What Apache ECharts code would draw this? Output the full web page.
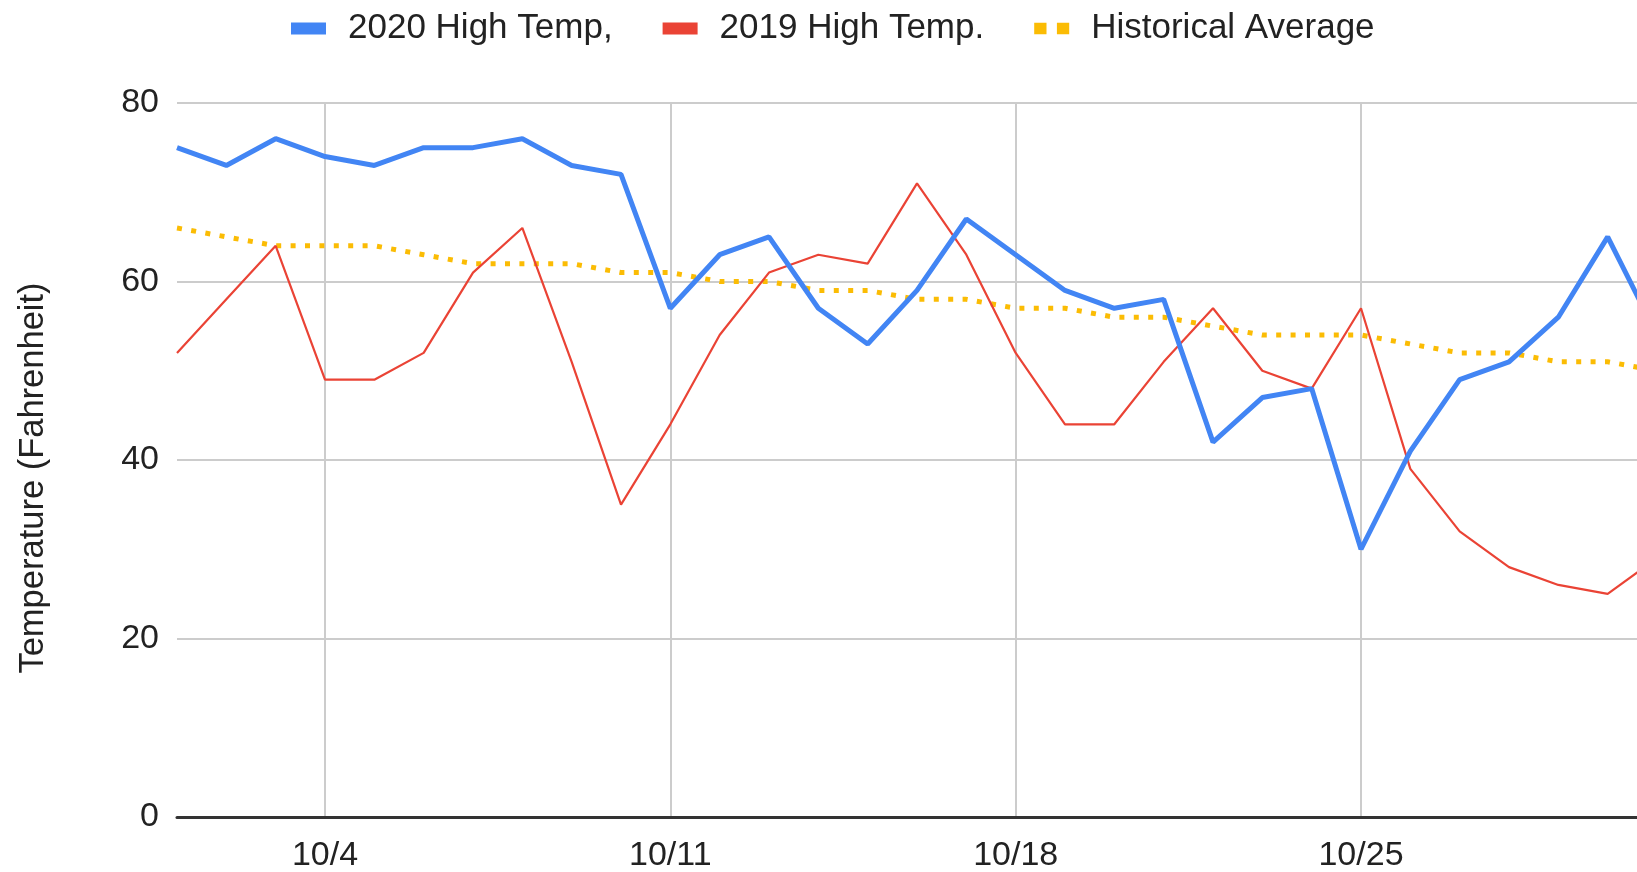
<!DOCTYPE html>
<html>
<head>
<meta charset="utf-8">
<title>October High Temperatures</title>
<script src="https://cdn.jsdelivr.net/npm/echarts@6/dist/echarts.min.js"></script>
<style>
  html, body { margin: 0; padding: 0; background: #ffffff; }
  #chart { width: 1637px; height: 872px; }
</style>
</head>
<body>
<div id="chart"></div>
<script>
// Days of October shown along the x axis
const days = [
  '10/1', '10/2', '10/3', '10/4', '10/5', '10/6', '10/7', '10/8', '10/9', '10/10',
  '10/11', '10/12', '10/13', '10/14', '10/15', '10/16', '10/17', '10/18', '10/19', '10/20',
  '10/21', '10/22', '10/23', '10/24', '10/25', '10/26', '10/27', '10/28', '10/29', '10/30',
  '10/31'
];

// Daily high temperatures (°F)
const high2020 = [75, 73, 76, 74, 73, 75, 75, 76, 73, 72, 57, 63, 65, 57, 53, 59, 67, 63, 59, 57,
                  58, 42, 47, 48, 30, 41, 49, 51, 56, 65, 54];
const high2019 = [52, 58, 64, 49, 49, 52, 61, 66, 51, 35, 44, 54, 61, 63, 62, 71, 63, 52, 44, 44,
                  51, 57, 50, 48, 57, 39, 32, 28, 26, 25, 29];
const histAvg  = [66, 65, 64, 64, 64, 63, 62, 62, 62, 61, 61, 60, 60, 59, 59, 58, 58, 57, 57, 56,
                  56, 55, 54, 54, 54, 53, 52, 52, 51, 51, 50];

// Weekly labels / gridlines on the date axis
const weekLabels = ['10/4', '10/11', '10/18', '10/25'];

// Series names
const seriesNames = ['2020 High Temp,', '2019 High Temp.', 'Historical Average'];

const FONT = '"Liberation Sans", Arial, Helvetica, sans-serif';
const isWeekTick = (idx) => weekLabels.includes(days[idx]);

const chart = echarts.init(document.getElementById('chart'), null, { renderer: 'canvas' });

chart.setOption({
  animation: false,
  backgroundColor: '#ffffff',
  color: ['#4285F4', '#EA4335', '#FBBC04'],
  textStyle: { fontFamily: FONT },
  legend: {
    left: 286,
    top: 6,
    itemWidth: 35,
    itemHeight: 12,
    itemGap: 50,
    textStyle: { fontSize: 35, color: '#222222', fontFamily: FONT, padding: [0, 0, 0, 17] },
    data: [
      { name: seriesNames[0], icon: 'rect' },
      { name: seriesNames[1], icon: 'rect' },
      { name: seriesNames[2], icon: 'path://M0,0H13V12H0Z M24,0H37V12H24Z' }
    ]
  },
  grid: {
    left: 177,
    right: -20,
    top: 103,
    bottom: 55,
    containLabel: false,
    outerBoundsMode: 'none'
  },
  xAxis: {
    type: 'category',
    data: days,
    boundaryGap: false,
    axisLine: { show: true, onZero: true, lineStyle: { color: '#333333', width: 3 } },
    axisTick: { show: false },
    axisLabel: {
      interval: (idx) => isWeekTick(idx),
      hideOverlap: false,
      fontSize: 34,
      color: '#222222',
      fontFamily: FONT,
      margin: 22
    },
    splitLine: {
      show: true,
      interval: (idx) => isWeekTick(idx),
      lineStyle: { color: '#cccccc', width: 2 }
    }
  },
  yAxis: {
    type: 'value',
    min: 0,
    max: 80,
    interval: 20,
    name: 'Temperature (Fahrenheit)',
    nameLocation: 'middle',
    nameGap: 126,
    nameTextStyle: { fontSize: 34.5, color: '#222222', fontFamily: FONT, padding: [0, 36, 0, 0] },
    axisLine: { show: false },
    axisTick: { show: false },
    axisLabel: { fontSize: 34, color: '#222222', fontFamily: FONT, margin: 18 },
    splitLine: { show: true, lineStyle: { color: '#cccccc', width: 2 } }
  },
  series: [
    {
      name: seriesNames[0],
      type: 'line',
      data: high2020,
      symbol: 'none',
      z: 4,
      lineStyle: { color: '#4285F4', width: 5 },
      itemStyle: { color: '#4285F4' }
    },
    {
      name: seriesNames[1],
      type: 'line',
      data: high2019,
      symbol: 'none',
      z: 3,
      lineStyle: { color: '#EA4335', width: 2.2 },
      itemStyle: { color: '#EA4335' }
    },
    {
      name: seriesNames[2],
      type: 'line',
      data: histAvg,
      symbol: 'none',
      z: 2,
      lineStyle: { color: '#FBBC04', width: 5, type: [5, 9.4], cap: 'butt' },
      itemStyle: { color: '#FBBC04' }
    }
  ]
});
</script>
</body>
</html>
